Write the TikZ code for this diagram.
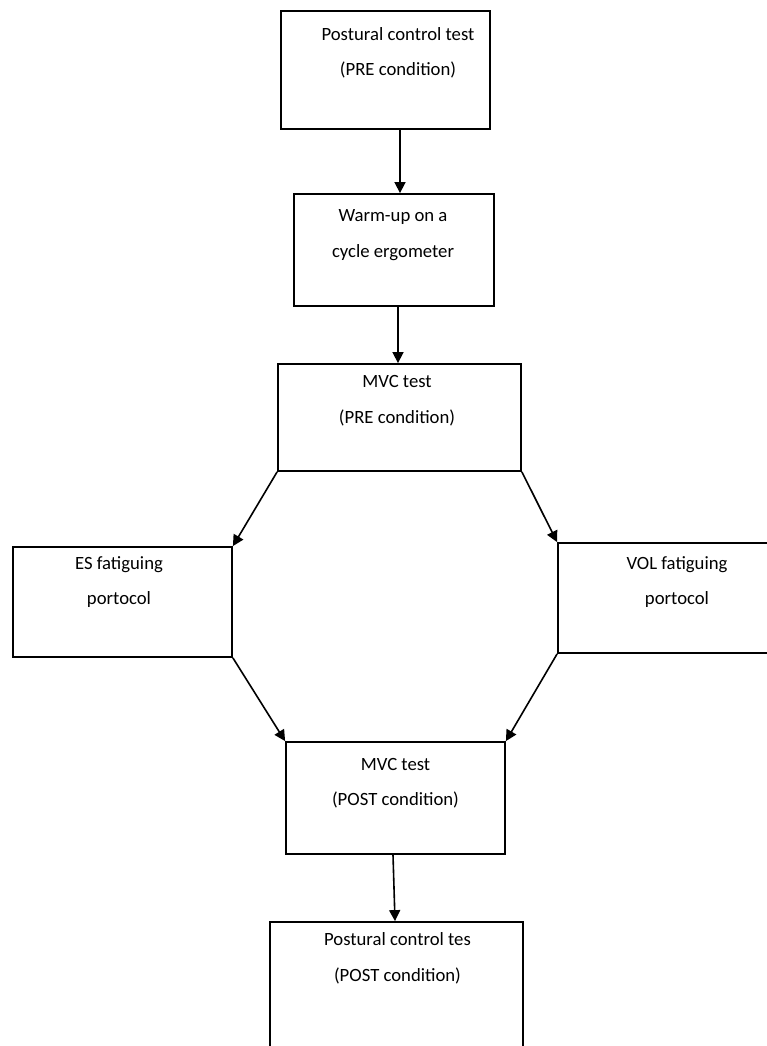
\documentclass[tikz,border=0pt]{standalone}
\usepackage{fontspec}
\setmainfont{Carlito}
\usetikzlibrary{arrows.meta}
\begin{document}
\begin{tikzpicture}
	[x=1pt,y=-1pt,line width=1.6,
	box/.style = {
		draw,
		line width=1.8
	},
	txt/.style = {
		align=center,
		inner sep=0,
		font=\fontsize{18.7}{35.5}\selectfont
	},
	wire/.style = {
		-{Triangle[length=11,width=11]}
	}]

	\useasboundingbox (0,0) rectangle (767,1046);

	%Draw boxes
	\node[box, minimum width=209, minimum height=118] at (385.5,70) (pre) {};
	\node[box, minimum width=200, minimum height=112] at (394,250) (warm) {};
	\node[box, minimum width=243, minimum height=107] at (399.5,417.5) (mvcpre) {};
	\node[box, minimum width=219, minimum height=110] at (122.5,602) (es) {};
	\node[box, minimum width=222, minimum height=110] at (669,598) (vol) {};
	\node[box, minimum width=219, minimum height=112] at (395.5,798) (mvcpost) {};
	\node[box, minimum width=253, minimum height=138] at (396.5,991) (post) {};

	%Draw texts
	\node[txt] at (398,53) (pre-t) {Postural control test\\(PRE condition)};
	\node[txt] at (393,235) (warm-t) {Warm-up on a\\cycle ergometer};
	\node[txt] at (397,400.5) (mvcpre-t) {MVC test\\(PRE condition)};
	\node[txt] at (119,582) (es-t) {ES fatiguing\\portocol};
	\node[txt] at (677,582) (vol-t) {VOL fatiguing\\portocol};
	\node[txt] at (395.5,783) (mvcpost-t) {MVC test\\(POST condition)};
	\node[txt] at (397.5,958.5) (post-t) {Postural control tes\\(POST condition)};

	%Draw wires
	\draw[wire] ([xshift=14.5]pre.south) to ([xshift=6]warm.north);
	\draw[wire] ([xshift=4]warm.south) to ([xshift=-1.5]mvcpre.north);
	\draw[wire] (mvcpre.south west) to (es.north east);
	\draw[wire] (mvcpre.south east) to (vol.north west);
	\draw[wire] (es.south east) to (mvcpost.north west);
	\draw[wire] (vol.south west) to (mvcpost.north east);
	\draw[wire] ([xshift=-2.5]mvcpost.south) to ([xshift=-1.5]post.north);

\end{tikzpicture}
\end{document}
